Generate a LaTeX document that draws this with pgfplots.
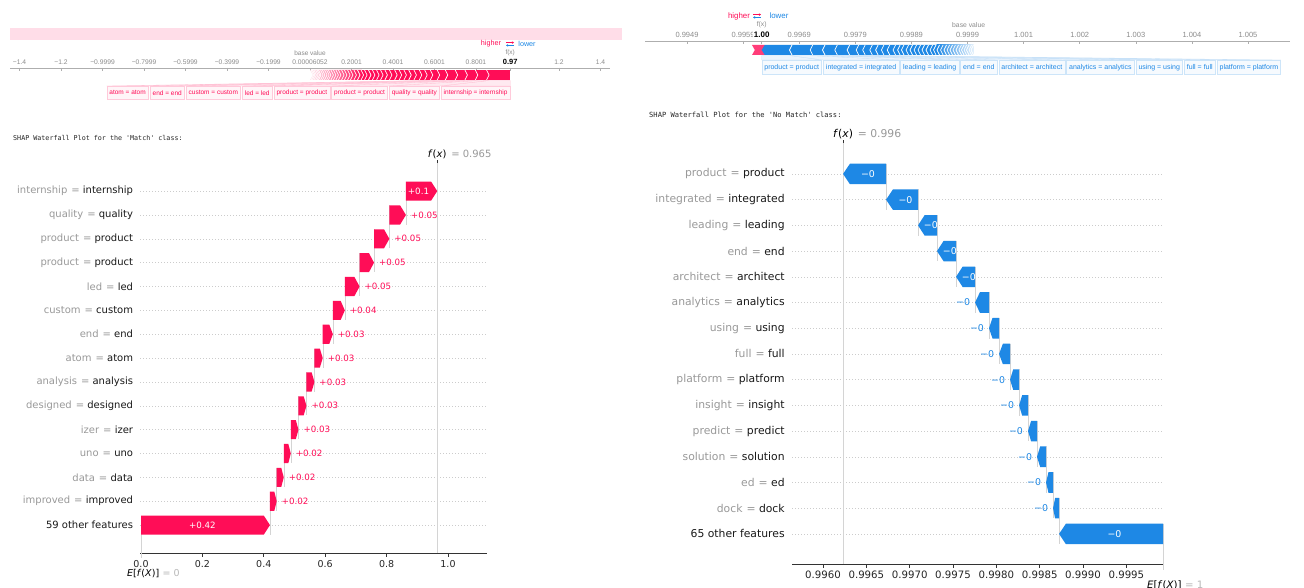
\documentclass[border=0pt]{standalone}
\usepackage{fontspec}
\setmainfont{DejaVu Sans}
\newfontfamily\forcefont{Liberation Sans}
\newfontfamily\codefont{DejaVu Sans Mono}
\usepackage{pgfplots}
\pgfplotsset{compat=1.18}
\usetikzlibrary{arrows.meta}

\definecolor{shappink}{HTML}{FF0D57}
\definecolor{shapblue}{HTML}{1E88E5}
\definecolor{namegray}{HTML}{999999}
\definecolor{tickgray}{HTML}{8C8C8C}
\definecolor{linegray}{HTML}{D4D4D4}
\definecolor{gridgray}{HTML}{CCCCCC}

% one waterfall arrow: row, from, to, longest head, colour
\newcommand\wfshape[5]{%
  \pgfmathsetmacro\wfyb{#1-0.4}%
  \pgfmathsetmacro\wfyt{#1+0.4}%
  \pgfmathsetmacro\wflo{#1-1.4}%
  \pgfmathsetmacro\wfdir{2*(#3>#2)-1}%
  \pgfmathsetmacro\wfhl{min(0.35*abs(#3-#2),#4)}%
  \pgfmathsetmacro\wfxh{#3-\wfdir*\wfhl}%
  \pgfmathsetmacro\wfmid{(#2+\wfxh)/2}%
  \edef\wfcmd{%
    \noexpand\draw[linegray,line width=0.4pt] (axis cs:#2,\wfyt) -- (axis cs:#2,\wflo);
    \noexpand\addplot[fill=#5,draw=none] coordinates {(#2,\wfyb) (\wfxh,\wfyb) (#3,#1) (\wfxh,\wfyt) (#2,\wfyt)};
  }\wfcmd}
% arrow with its value written inside
\newcommand\wfin[7]{\wfshape{#1}{#2}{#3}{#4}{#5}%
  \edef\wfcmd{\noexpand\node[#7] at (axis cs:\wfmid,#1) {\unexpanded{#6}};}\wfcmd}
% arrow with its value written beyond the tip
\newcommand\wfout[7]{\wfshape{#1}{#2}{#3}{#4}{#5}%
  \edef\wfcmd{\noexpand\node[#7] at (axis cs:#3,#1) {\unexpanded{#6}};}\wfcmd}
% feature label: name = value
\newcommand\wlab[2]{{\color{namegray}#1\hspace{4pt}=} #2}
% band joining a bar segment to its label box: node, from, to, bar bottom, colour
\newcommand\fan[5]{%
  \edef\wfcmd{\noexpand\filldraw[fill=#5!9, draw=#5!25, line width=0.3pt] (axis cs:#2,#4) -- (axis cs:#3,#4) -- (#1.north east) -- (#1.north west) -- cycle;}\wfcmd}

\tikzset{
  inL/.style={text=white, font=\fontsize{8.7}{10}\selectfont},
  outR/.style={anchor=west, xshift=1.5pt, text=shappink, font=\fontsize{8.7}{10}\selectfont},
  inR/.style={text=white, font=\fontsize{9.4}{11}\selectfont},
  outL/.style={anchor=east, xshift=-1.5pt, text=shapblue, font=\fontsize{9.4}{11}\selectfont},
  fboxP/.style={draw=shappink!22, fill=shappink!4, text=shappink, inner xsep=2.5pt, inner ysep=0pt,
    minimum height=13pt, line width=0.4pt, font=\forcefont\fontsize{6.5}{7}\selectfont},
  fboxB/.style={draw=shapblue!22, fill=shapblue!4, text=shapblue, inner xsep=2.5pt, inner ysep=0pt,
    minimum height=14pt, line width=0.4pt, font=\forcefont\fontsize{7}{8}\selectfont},
}

\begin{document}
\begin{tikzpicture}
\useasboundingbox (0pt,0pt) rectangle (1304pt,-588pt);
\fill[white] (0pt,0pt) rectangle (1304pt,-588pt);

%================ force plot, 'Match' =================
\begin{axis}[
  at={(10pt,-100pt)}, anchor=south west, scale only axis,
  width=600pt, height=32pt,
  xmin=-1.446, xmax=1.446, ymin=-100, ymax=-68,
  axis x line*=top, axis y line=none, clip=false,
  axis line style={tickgray!70, line width=0.6pt},
  xtick={-1.4,-1.2,-1,-0.8,-0.6,-0.4,-0.2,0,0.2,0.4,0.6,0.8,1.2,1.4},
  xticklabels={−1.4,−1.2,−0.9999,−0.7999,−0.5999,−0.3999,−0.1999,0.00006052,0.2001,0.4001,0.6001,0.8001,1.2,1.4},
  tick align=inside, major tick length=3pt,
  xtick style={tickgray!70, line width=0.5pt},
  xticklabel style={font=\forcefont\fontsize{6.7}{7}\selectfont, text=tickgray},
  extra x ticks={0.965}, extra x tick labels={\textbf{0.97}},
  extra x tick style={xticklabel style={font=\forcefont\fontsize{7.5}{8}\selectfont, text=black}},
]
\fill[shappink!14] (axis cs:-1.446,-28) rectangle (axis cs:1.504,-40);
\node[font=\forcefont\fontsize{7.2}{8}\selectfont, text=shappink] at (axis cs:0.872,-44) {higher};
\node[font=\forcefont\fontsize{7.2}{8}\selectfont, text=shapblue] at (axis cs:1.046,-44) {lower};
\draw[shappink, line width=0.7pt, -{Stealth[length=2.2pt,width=2.6pt]}] ([xshift=-4pt,yshift=1.4pt]axis cs:0.964,-44) -- ++(8pt,0pt);
\draw[shapblue, line width=0.7pt, -{Stealth[length=2.2pt,width=2.6pt]}] ([xshift=4pt,yshift=-1.4pt]axis cs:0.964,-44) -- ++(-8pt,0pt);
\node[font=\forcefont\fontsize{6.5}{7}\selectfont, text=tickgray] at (axis cs:0,-53) {base value};
\node[font=\forcefont\fontsize{6.5}{7}\selectfont, text=tickgray] at (axis cs:0.965,-53) {f(x)};
% stacked push from the base value up to f(x)
\shade[left color=shappink!12, right color=shappink] (axis cs:0,-70) -- (axis cs:0.25,-70) -- (axis cs:0.25,-80) -- (axis cs:0,-80) -- (axis cs:0.0145,-75) -- cycle;
\addplot[fill=shappink, draw=none] coordinates {(0.249,-70) (0.965,-70) (0.965,-80) (0.249,-80)};
\pgfplotsinvokeforeach{0.863,0.809,0.759,0.712,0.664,0.625,0.592,0.565,0.539,0.513,0.488,0.465,0.442,0.420,
  0.395,0.373,0.352,0.333,0.313,0.294,0.275,0.258,0.241,0.224,0.207,0.193,0.178,0.164,0.149,0.137,
  0.125,0.113,0.101,0.092,0.082,0.072,0.063,0.053,0.046,0.039,0.031,0.024,0.017}{
  \draw[white, line width=0.7pt] (axis cs:#1,-75) ++(-2.5pt,5pt) -- (axis cs:#1,-75) -- ++(-2.5pt,-5pt);
}
% feature labels
\node[fboxP, anchor=north east] (m8) at (axis cs:0.965,-86) {internship = internship};
\node[fboxP, anchor=north east] (m7) at ([xshift=-1.5pt]m8.north west) {quality = quality};
\node[fboxP, anchor=north east] (m6) at ([xshift=-1.5pt]m7.north west) {product = product};
\node[fboxP, anchor=north east] (m5) at ([xshift=-1.5pt]m6.north west) {product = product};
\node[fboxP, anchor=north east] (m4) at ([xshift=-1.5pt]m5.north west) {led = led};
\node[fboxP, anchor=north east] (m3) at ([xshift=-1.5pt]m4.north west) {custom = custom};
\node[fboxP, anchor=north east] (m2) at ([xshift=-1.5pt]m3.north west) {end = end};
\node[fboxP, anchor=north east] (m1) at ([xshift=-1.5pt]m2.north west) {atom = atom};
\fan{m8}{0.863}{0.965}{-80.5}{shappink}
\fan{m7}{0.809}{0.863}{-80.5}{shappink}
\fan{m6}{0.759}{0.809}{-80.5}{shappink}
\fan{m5}{0.712}{0.759}{-80.5}{shappink}
\fan{m4}{0.664}{0.712}{-80.5}{shappink}
\fan{m3}{0.625}{0.664}{-80.5}{shappink}
\fan{m2}{0.592}{0.625}{-80.5}{shappink}
\fan{m1}{0.565}{0.592}{-80.5}{shappink}
\end{axis}

%================ force plot, 'No Match' (x stored as (output - 0.99) x 10^4) =================
\begin{axis}[
  at={(645pt,-75pt)}, anchor=south west, scale only axis,
  width=645pt, height=34pt,
  xmin=41.513, xmax=156.487, ymin=-75, ymax=-41,
  axis x line*=top, axis y line=none, clip=false,
  axis line style={tickgray!70, line width=0.6pt},
  xtick={49,59,...,149},
  xticklabels={0.9949,0.9959,0.9969,0.9979,0.9989,0.9999,1.001,1.002,1.003,1.004,1.005},
  tick align=inside, major tick length=3pt,
  xtick style={tickgray!70, line width=0.5pt},
  xticklabel style={font=\forcefont\fontsize{7.5}{8}\selectfont, text=tickgray},
  extra x ticks={62.31}, extra x tick labels={\textbf{1.00}},
  extra x tick style={xticklabel style={font=\forcefont\fontsize{8}{9}\selectfont, text=black, fill=white, inner xsep=0.5pt}},
]
\node[font=\forcefont\fontsize{7.9}{9}\selectfont, text=shappink] at (axis cs:58.27,-16) {higher};
\node[font=\forcefont\fontsize{7.9}{9}\selectfont, text=shapblue] at (axis cs:65.4,-16) {lower};
\draw[shappink, line width=0.7pt, -{Stealth[length=2.2pt,width=2.6pt]}] ([xshift=-4pt,yshift=1.4pt]axis cs:61.48,-16) -- ++(8pt,0pt);
\draw[shapblue, line width=0.7pt, -{Stealth[length=2.2pt,width=2.6pt]}] ([xshift=4pt,yshift=-1.4pt]axis cs:61.48,-16) -- ++(-8pt,0pt);
\node[font=\forcefont\fontsize{6.8}{7}\selectfont, text=tickgray] at (axis cs:62.31,-25) {f(x)};
\node[font=\forcefont\fontsize{6.8}{7}\selectfont, text=tickgray] at (axis cs:99.2,-25) {base value};
% positive and negative pushes
\addplot[fill=shappink!80, draw=none] coordinates {(60.59,-45) (62.9,-45) (62.9,-55) (60.59,-55) (61.09,-50)};
\addplot[fill=shapblue, draw=none] coordinates {(62.31,-50) (62.86,-45) (93.6,-45) (93.6,-55) (62.86,-55)};
\shade[left color=shapblue, right color=shapblue!12] (axis cs:93.5,-45) rectangle (axis cs:100.09,-55);
\pgfplotsinvokeforeach{67.27,70.96,73.15,75.35,77.54,79.15,80.31,81.58,82.62,83.65,84.69,85.73,86.54,87.23,
  88.04,88.75,89.47,90.18,90.89,91.60,92.32,92.94,93.56,94.19,94.81,95.35,95.88,96.41,96.95,97.48,
  97.93,98.38,98.82,99.27,99.62}{
  \draw[white, line width=0.7pt] (axis cs:#1,-50) ++(2.5pt,5pt) -- (axis cs:#1,-50) -- ++(2.5pt,-5pt);
}
\node[fboxB, anchor=north west] (n1) at (axis cs:62.31,-60) {product = product};
\node[fboxB, anchor=north west] (n2) at ([xshift=1.5pt]n1.north east) {integrated = integrated};
\node[fboxB, anchor=north west] (n3) at ([xshift=1.5pt]n2.north east) {leading = leading};
\node[fboxB, anchor=north west] (n4) at ([xshift=1.5pt]n3.north east) {end = end};
\node[fboxB, anchor=north west] (n5) at ([xshift=1.5pt]n4.north east) {architect = architect};
\node[fboxB, anchor=north west] (n6) at ([xshift=1.5pt]n5.north east) {analytics = analytics};
\node[fboxB, anchor=north west] (n7) at ([xshift=1.5pt]n6.north east) {using = using};
\node[fboxB, anchor=north west] (n8) at ([xshift=1.5pt]n7.north east) {full = full};
\node[fboxB, anchor=north west] (n9) at ([xshift=1.5pt]n8.north east) {platform = platform};
\fan{n1}{62.31}{67.27}{-55.5}{shapblue}
\fan{n2}{67.27}{70.96}{-55.5}{shapblue}
\fan{n3}{70.96}{73.15}{-55.5}{shapblue}
\fan{n4}{73.15}{75.35}{-55.5}{shapblue}
\fan{n5}{75.35}{77.54}{-55.5}{shapblue}
\fan{n6}{77.54}{79.15}{-55.5}{shapblue}
\fan{n7}{79.15}{80.31}{-55.5}{shapblue}
\fan{n8}{80.31}{81.58}{-55.5}{shapblue}
\fan{n9}{81.58}{82.62}{-55.5}{shapblue}
\end{axis}

%================ waterfall, 'Match' =================
\begin{axis}[
  at={(140.08pt,-553pt)}, anchor=south west, scale only axis,
  width=346.9pt, height=389.8pt,
  xmin=-0.003, xmax=1.127, ymin=-0.17, ymax=16.17,
  axis lines*=left, y axis line style={draw=none},
  x axis line style={black!80, line width=0.6pt},
  clip=false,
  xtick={0,0.2,0.4,0.6,0.8,1.0}, xticklabels={0.0,0.2,0.4,0.6,0.8,1.0},
  ytick={1,...,15},
  yticklabels={{59 other features},{\wlab{improved}{improved}},{\wlab{data}{data}},{\wlab{uno}{uno}},
    {\wlab{izer}{izer}},{\wlab{designed}{designed}},{\wlab{analysis}{analysis}},{\wlab{atom}{atom}},
    {\wlab{end}{end}},{\wlab{custom}{custom}},{\wlab{led}{led}},{\wlab{product}{product}},
    {\wlab{product}{product}},{\wlab{quality}{quality}},{\wlab{internship}{internship}}},
  tick align=outside, major tick length=3.5pt,
  xtick style={black!80, line width=0.6pt}, ytick style={draw=none},
  xticklabel style={font=\fontsize{9.5}{11}\selectfont, text=black!85},
  yticklabel style={font=\fontsize{10}{12}\selectfont, text=black!90},
  ymajorgrids, major grid style={gridgray, line width=0.5pt, dash pattern=on 0.6pt off 2.4pt},
]
\draw[linegray, line width=0.6pt] (axis cs:0.965,-0.17) -- (axis cs:0.965,16.17);
\draw[black!80, line width=0.6pt] (axis cs:0.965,16.17) -- ++(0pt,3pt);
\node[anchor=base, font=\fontsize{10}{12}\selectfont] (fxm) at ([yshift=6pt]axis cs:0.965,16.17) {\textit{f}(\textit{x})};
\node[anchor=base west, font=\fontsize{10}{12}\selectfont, text=namegray, inner xsep=1pt] at (fxm.base east) {= 0.965};
\node[anchor=base west, font=\fontsize{9.5}{11}\selectfont, inner xsep=0pt] (efm) at ([xshift=-14pt,yshift=-23pt]axis cs:0,-0.17) {\textit{E}[\textit{f}(\textit{X})]};
\node[anchor=base west, font=\fontsize{9.5}{11}\selectfont, text=namegray!70, inner xsep=3pt] at (efm.base east) {= 0};
\wfin{15}{0.863}{0.965}{0.02}{shappink}{+0.1}{inL}
\wfout{14}{0.809}{0.863}{0.02}{shappink}{+0.05}{outR}
\wfout{13}{0.759}{0.809}{0.02}{shappink}{+0.05}{outR}
\wfout{12}{0.712}{0.759}{0.02}{shappink}{+0.05}{outR}
\wfout{11}{0.664}{0.712}{0.02}{shappink}{+0.05}{outR}
\wfout{10}{0.625}{0.664}{0.02}{shappink}{+0.04}{outR}
\wfout{9}{0.592}{0.625}{0.02}{shappink}{+0.03}{outR}
\wfout{8}{0.565}{0.592}{0.02}{shappink}{+0.03}{outR}
\wfout{7}{0.539}{0.565}{0.02}{shappink}{+0.03}{outR}
\wfout{6}{0.513}{0.539}{0.02}{shappink}{+0.03}{outR}
\wfout{5}{0.488}{0.513}{0.02}{shappink}{+0.03}{outR}
\wfout{4}{0.465}{0.488}{0.02}{shappink}{+0.02}{outR}
\wfout{3}{0.442}{0.465}{0.02}{shappink}{+0.02}{outR}
\wfout{2}{0.420}{0.442}{0.02}{shappink}{+0.02}{outR}
\wfin{1}{0}{0.420}{0.02}{shappink}{+0.42}{inL}
\end{axis}

%================ waterfall, 'No Match' (x stored as (output - 0.99) x 10^4) =================
\begin{axis}[
  at={(792pt,-564pt)}, anchor=south west, scale only axis,
  width=371.2pt, height=420.9pt,
  xmin=56.42, xmax=99.25, ymin=-0.17, ymax=16.2,
  axis lines*=left, y axis line style={draw=none},
  x axis line style={black!80, line width=0.6pt},
  clip=false,
  xtick={60,65,...,95},
  xticklabels={0.9960,0.9965,0.9970,0.9975,0.9980,0.9985,0.9990,0.9995},
  extra x ticks={99.23}, extra x tick labels={}, extra x tick style={grid=none},
  ytick={1,...,15},
  yticklabels={{65 other features},{\wlab{dock}{dock}},{\wlab{ed}{ed}},{\wlab{solution}{solution}},
    {\wlab{predict}{predict}},{\wlab{insight}{insight}},{\wlab{platform}{platform}},{\wlab{full}{full}},
    {\wlab{using}{using}},{\wlab{analytics}{analytics}},{\wlab{architect}{architect}},{\wlab{end}{end}},
    {\wlab{leading}{leading}},{\wlab{integrated}{integrated}},{\wlab{product}{product}}},
  tick align=outside, major tick length=3.8pt,
  xtick style={black!80, line width=0.6pt}, ytick style={draw=none},
  xticklabel style={font=\fontsize{10.2}{12}\selectfont, text=black!85},
  yticklabel style={font=\fontsize{10.8}{13}\selectfont, text=black!90},
  ymajorgrids, major grid style={gridgray, line width=0.5pt, dash pattern=on 0.6pt off 2.4pt},
]
\draw[linegray, line width=0.6pt] (axis cs:62.31,-0.17) -- (axis cs:62.31,16.2);
\draw[black!80, line width=0.6pt] (axis cs:62.31,16.2) -- ++(0pt,3pt);
\node[anchor=base, font=\fontsize{10.8}{13}\selectfont] (fxn) at ([yshift=6pt]axis cs:62.31,16.2) {\textit{f}(\textit{x})};
\node[anchor=base west, font=\fontsize{10.8}{13}\selectfont, text=namegray, inner xsep=1pt] at (fxn.base east) {= 0.996};
\node[anchor=base west, font=\fontsize{10.2}{12}\selectfont, inner xsep=0pt] (efn) at ([xshift=-16pt,yshift=-24pt]axis cs:99.23,-0.17) {\textit{E}[\textit{f}(\textit{X})]};
\node[anchor=base west, font=\fontsize{10.2}{12}\selectfont, text=namegray!70, inner xsep=3pt] at (efn.base east) {= 1};
\wfin{15}{67.27}{62.31}{0.8}{shapblue}{−0}{inR}
\wfin{14}{70.96}{67.27}{0.8}{shapblue}{−0}{inR}
\wfin{13}{73.15}{70.96}{0.8}{shapblue}{−0}{inR}
\wfin{12}{75.35}{73.15}{0.8}{shapblue}{−0}{inR}
\wfin{11}{77.54}{75.35}{0.8}{shapblue}{−0}{inR}
\wfout{10}{79.15}{77.54}{0.8}{shapblue}{−0}{outL}
\wfout{9}{80.31}{79.15}{0.8}{shapblue}{−0}{outL}
\wfout{8}{81.58}{80.31}{0.8}{shapblue}{−0}{outL}
\wfout{7}{82.62}{81.58}{0.8}{shapblue}{−0}{outL}
\wfout{6}{83.65}{82.62}{0.8}{shapblue}{−0}{outL}
\wfout{5}{84.69}{83.65}{0.8}{shapblue}{−0}{outL}
\wfout{4}{85.73}{84.69}{0.8}{shapblue}{−0}{outL}
\wfout{3}{86.54}{85.73}{0.8}{shapblue}{−0}{outL}
\wfout{2}{87.23}{86.54}{0.8}{shapblue}{−0}{outL}
\wfin{1}{99.23}{87.23}{0.8}{shapblue}{−0}{inR}
\end{axis}

% captions printed above each waterfall
\node[anchor=base west, font=\codefont\fontsize{6.7}{8}\selectfont, text=black!85, inner sep=0pt] at (13pt,-141pt) {SHAP Waterfall Plot for the 'Match' class:};
\node[anchor=base west, font=\codefont\fontsize{7.1}{8}\selectfont, text=black!85, inner sep=0pt] at (649pt,-118pt) {SHAP Waterfall Plot for the 'No Match' class:};
\end{tikzpicture}
\end{document}
